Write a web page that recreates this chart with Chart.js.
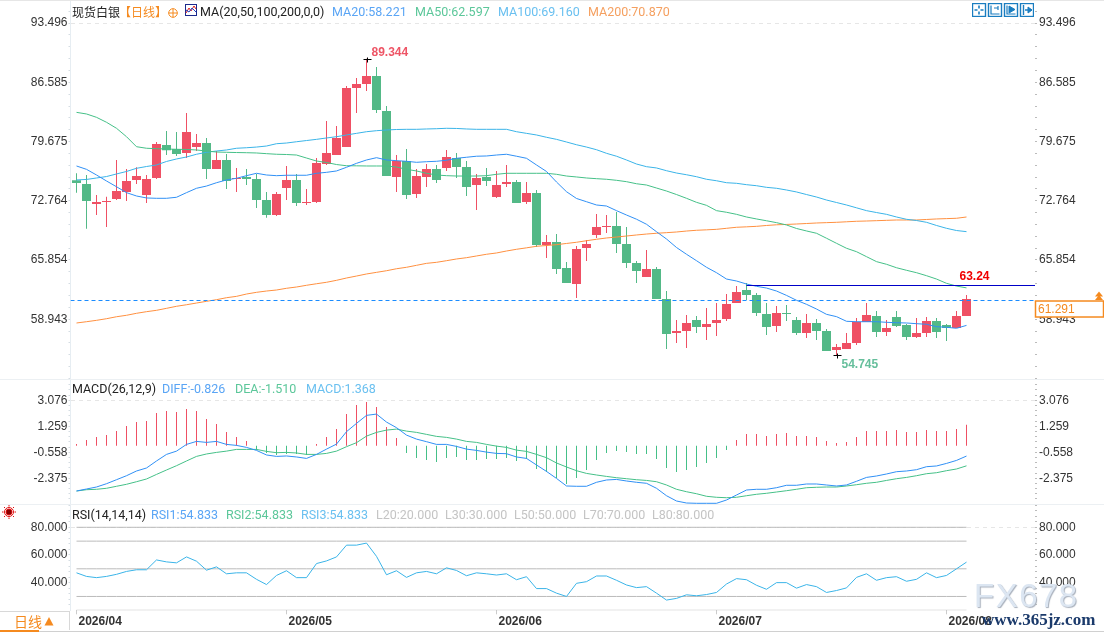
<!DOCTYPE html>
<html>
<head>
<meta charset="utf-8">
<script src="https://cdn.jsdelivr.net/npm/chart.js@4/dist/chart.umd.min.js"></script>
<style>
html, body { margin: 0; padding: 0; background: #fff; overflow: hidden; }
#page { position: relative; width: 1104px; height: 632px; overflow: hidden; font-family: "Roboto", "Liberation Sans", sans-serif; }
canvas { position: absolute; left: 0; }
.t { position: absolute; font-size: 12.5px; line-height: 16px; white-space: nowrap; }
.sep { position: absolute; left: 0; width: 1104px; height: 1px; background: #ecf0f3; }
svg { position: absolute; }
</style>
</head>
<body>
<div id="page">
  <canvas id="mainChart" width="1104" height="379" style="top:0"></canvas>
  <canvas id="macdChart" width="1104" height="125" style="top:379px"></canvas>
  <canvas id="rsiChart" width="1104" height="128" style="top:504px"></canvas>

  <div class="sep" style="top:0;background:#e6e6e6"></div>
  <div class="sep" style="top:379px"></div>
  <div class="sep" style="top:504px"></div>
  <div class="sep" style="top:631px;background:#d0d0d0"></div>

  <div class="t" style="left:72px;top:4px;font-family:'Noto Sans CJK SC';font-size:12px;color:#222">现货白银</div>
  <div class="t" style="left:119px;top:4px;font-family:'Noto Sans CJK SC';font-size:12px;color:#f58a1f">【日线】</div>
  <svg style="left:168px;top:8px" width="10" height="10"><circle cx="5" cy="5" r="4.3" fill="none" stroke="#f58a1f"/><path d="M0.5 5H9.5M5 0.5V9.5" stroke="#f58a1f"/></svg>
  <svg style="left:185px;top:4px" width="12" height="12"><rect x=".5" y=".5" width="11" height="11" fill="#fff" stroke="#1c2a8c"/><path d="M1 9L4 4L6 7L9 2L11 5" fill="none" stroke="#e02020"/><path d="M1 6L4 8L7 4L11 8" fill="none" stroke="#2040c0"/></svg>
  <div class="t" style="left:200px;top:4px;color:#222">MA(20,50,100,200,0,0)</div>
  <div class="t" style="left:332px;top:4px;color:#5aa5f5">MA20:58.221</div>
  <div class="t" style="left:415px;top:4px;color:#5cc79a">MA50:62.597</div>
  <div class="t" style="left:498px;top:4px;color:#6ac0f0">MA100:69.160</div>
  <div class="t" style="left:588px;top:4px;color:#f5a060">MA200:70.870</div>

  <svg style="left:972px;top:3px" width="62" height="14" fill="none" stroke="#1a7dc0">
    <rect x=".5" y=".5" width="13" height="13" stroke-width="1.4"/><path d="M7 2.5V5.5M7 8.5V11.5M2.5 7H5.5M8.5 7H11.5" stroke-width="1.6"/>
    <rect x="16.5" y=".5" width="13" height="13" stroke-width="1.4"/><path d="M19 2.5V11H27.5M22 5H26M26 3V7" stroke-width="1.2"/>
    <rect x="32.5" y=".5" width="13" height="13" stroke-width="1.4"/><path d="M35 2.5V11H43.5" stroke-width="1.2"/><path d="M37 3L43 6.5L37 10Z" fill="#1a7dc0"/>
    <rect x="48.5" y=".5" width="13" height="13" stroke-width="1.4"/><path d="M51.5 2V12M53 7H60" stroke-width="1.4"/><path d="M56 4L60 7L56 10Z" fill="#1a7dc0"/>
  </svg>

  <div class="t" style="left:72px;top:381px;color:#222">MACD(26,12,9)</div>
  <div class="t" style="left:162px;top:381px;color:#5aa5f5">DIFF:-0.826</div>
  <div class="t" style="left:235px;top:381px;color:#5cc79a">DEA:-1.510</div>
  <div class="t" style="left:306px;top:381px;color:#6ac0f0">MACD:1.368</div>

  <div class="t" style="left:72px;top:507px;color:#222">RSI(14,14,14)</div>
  <div class="t" style="left:151px;top:507px;color:#5aa5f5">RSI1:54.833</div>
  <div class="t" style="left:226px;top:507px;color:#5cc79a">RSI2:54.833</div>
  <div class="t" style="left:301px;top:507px;color:#6ac0f0">RSI3:54.833</div>
  <div class="t" style="left:376px;top:507px;color:#c4c4c4">L20:20.000</div>
  <div class="t" style="left:445px;top:507px;color:#c4c4c4">L30:30.000</div>
  <div class="t" style="left:514px;top:507px;color:#c4c4c4">L50:50.000</div>
  <div class="t" style="left:583px;top:507px;color:#c4c4c4">L70:70.000</div>
  <div class="t" style="left:652px;top:507px;color:#c4c4c4">L80:80.000</div>

  <svg style="left:2px;top:505px" width="14" height="14" stroke="#e01010"><circle cx="7" cy="7" r="3" fill="#800" /><circle cx="7" cy="7" r="4.5" fill="none"/><path d="M7 0V1.5M7 12.5V14M0 7H1.5M12.5 7H14M2 2L3 3M11 11L12 12M12 2L11 3M3 11L2 12"/></svg>

  <div style="position:absolute;left:0;top:611px;width:70px;height:19px;border-top:1px solid #d8d8d8;border-right:1px solid #d8d8d8;box-sizing:border-box"></div>
  <div class="t" style="left:14px;top:613px;font-family:'Noto Sans CJK SC';font-size:14px;color:#f58a1f">日线</div>
  <svg style="left:44px;top:617px" width="10" height="9"><path d="M5 0L9.5 8.5H0.5Z" fill="#f58a1f"/></svg>
  <div style="position:absolute;left:0;top:630px;width:39px;height:2px;background:#f58a1f"></div>

  <div class="t" style="left:974px;top:578px;font-family:'Liberation Sans';font-size:33px;line-height:36px;letter-spacing:1.5px;color:#dce6f2;text-shadow:1px 1px 1px #a8b0bc">FX678</div>
  <div class="t" style="left:982px;top:610px;font-family:'Liberation Serif';font-weight:bold;font-size:17px;line-height:20px;color:#1b3a6b">www.365jz.com</div>
</div>

<script>
// 90 dias, indice da vela
const labels = Array.from({ length: 90 }, (_, i) => i);
const monthTicks = [0, 21, 42, 64, 87];
const monthLabels = ["2026/04", "2026/05", "2026/06", "2026/07", "2026/08"];

const mainTicks = [93.496, 86.585, 79.675, 72.764, 65.854, 58.943];
const macdTicks = [3.076, 1.259, -0.558, -2.375];
const rsiTicks = [80, 60, 40];
const rsiLevels = [80, 70, 50, 30, 20];

const opens = [
  75.15,74.72,72.39,72.62,72.97,73.79,75.19,73.44,75.42,79.27,
  78.80,78.34,79.03,79.50,76.47,77.52,75.30,75.54,75.30,72.85,
  71.10,74.25,75.19,72.50,72.62,77.05,78.10,79.03,85.92,86.39,
  87.32,83.24,75.54,77.40,73.55,75.54,76.47,76.59,77.75,76.70,
  74.60,75.54,73.20,74.72,74.95,72.62,73.67,67.60,67.95,64.92,
  63.05,67.25,68.77,69.70,69.82,67.72,65.50,63.87,64.80,61.30,
  57.33,57.57,58.85,58.03,58.50,58.96,60.82,62.35,61.76,59.54,
  58.15,59.66,58.85,57.33,58.50,57.57,55.35,55.46,56.16,58.61,
  59.31,57.44,59.19,58.26,56.86,57.33,58.73,58.26,57.92,59.31];
const highs = [
  75.97,75.77,73.44,73.24,77.52,76.47,76.67,75.77,79.62,80.90,
  80.79,83.00,80.55,80.09,78.57,78.22,76.59,76.47,75.89,73.79,
  73.79,76.82,75.89,74.13,77.75,82.07,81.49,86.15,87.09,89.344,
  88.37,83.82,78.10,78.80,76.47,77.05,76.94,78.69,78.34,77.40,
  75.89,76.59,76.24,76.94,75.19,74.95,74.02,68.77,68.88,65.62,
  67.49,68.19,71.22,71.10,71.45,69.70,65.74,67.02,65.03,62.23,
  58.85,59.43,59.31,60.24,60.82,61.88,62.81,63.17,62.00,60.82,
  60.48,60.59,59.19,59.54,58.96,57.80,56.05,57.33,59.08,60.82,
  59.90,58.85,59.90,58.38,59.08,59.19,59.08,58.38,59.90,61.76];
const lows = [
  73.71,69.50,71.10,69.70,72.85,72.73,74.72,72.50,75.30,78.10,
  77.99,77.75,78.57,75.30,76.47,74.13,73.79,74.60,71.92,70.79,
  70.98,72.85,72.15,72.27,72.50,76.94,78.10,79.03,83.00,85.57,
  83.00,75.65,73.79,72.97,73.09,74.36,74.84,76.24,75.42,73.32,
  71.69,74.48,73.09,74.36,72.50,72.39,67.37,66.09,64.22,63.17,
  61.42,65.72,68.42,69.00,66.67,64.92,63.17,63.87,61.30,55.46,
  56.16,55.58,57.33,56.51,56.98,58.73,60.82,61.18,59.31,57.09,
  57.44,58.73,57.09,56.75,56.51,55.23,54.745,55.46,55.93,58.61,
  56.86,56.98,58.03,56.51,56.75,56.86,56.75,56.40,57.92,59.31];
const closes = [
  74.84,72.73,72.62,72.73,73.90,75.07,75.65,75.30,79.39,78.65,
  78.22,80.79,79.50,76.47,77.52,75.07,75.42,75.30,72.85,71.10,
  73.55,75.19,72.50,72.62,77.17,78.34,80.09,85.92,86.39,87.32,
  83.35,75.65,77.40,73.44,75.65,76.47,75.19,77.87,76.70,74.36,
  75.42,75.07,74.60,74.95,72.50,73.67,67.60,67.95,64.80,63.17,
  67.14,67.72,69.70,69.82,67.72,65.50,64.57,64.80,61.30,57.21,
  57.57,58.50,58.03,58.37,58.85,60.71,62.11,61.76,59.66,58.03,
  59.66,59.54,57.33,58.50,57.57,55.23,55.70,56.16,58.61,59.43,
  57.44,57.92,58.15,56.86,57.33,58.73,57.44,57.92,59.31,61.291];

const ma20 = [
  76.82,76.43,75.77,75.07,74.40,73.71,73.32,73.09,73.05,73.05,
  73.17,73.71,74.22,74.48,74.87,75.19,75.39,75.69,75.97,75.77,
  75.69,75.74,75.74,75.74,75.97,76.08,76.24,76.67,77.13,77.52,
  77.79,77.52,77.44,77.37,77.25,77.32,77.37,77.49,77.72,77.84,
  77.96,77.99,78.10,78.19,77.96,77.72,76.94,76.18,74.95,73.82,
  73.03,72.65,72.27,72.15,71.61,71.10,70.61,70.02,69.15,68.30,
  67.31,66.52,65.77,65.00,64.37,63.63,63.40,63.05,62.78,62.58,
  62.23,61.72,61.15,60.68,60.13,59.51,59.24,58.70,58.65,58.65,
  58.65,58.58,58.53,58.50,58.42,58.35,58.07,58.00,57.88,58.221];
const ma50 = [
  83.08,82.89,82.50,81.92,81.22,80.24,79.07,78.89,78.84,78.80,
  78.77,78.75,78.69,78.57,78.45,78.42,78.39,78.37,78.34,78.26,
  78.19,78.16,78.10,77.75,77.40,77.23,76.99,76.85,76.84,76.82,
  76.82,76.82,76.70,76.43,76.24,75.97,75.77,75.69,75.65,75.65,
  75.65,75.69,75.85,75.97,75.97,75.97,75.97,75.97,75.85,75.65,
  75.54,75.42,75.34,75.27,75.15,74.99,74.75,74.60,74.25,73.90,
  73.49,73.05,72.58,72.23,71.61,71.42,71.18,70.87,70.64,70.43,
  70.21,69.94,69.53,69.24,68.97,68.39,67.80,67.22,66.82,66.24,
  65.66,65.35,64.95,64.65,64.37,64.02,63.63,63.13,62.81,62.597];
const ma100 = [
  75.19,75.25,75.42,75.59,75.89,76.18,76.55,76.76,76.94,77.35,
  77.64,77.87,78.19,78.42,78.57,78.69,78.89,78.95,79.03,79.15,
  79.42,79.50,79.65,79.79,79.93,80.09,80.24,80.44,80.63,80.82,
  80.94,81.02,81.08,81.10,81.10,81.14,81.17,81.22,81.20,81.14,
  81.10,81.10,81.10,81.10,80.82,80.63,80.44,80.17,79.93,79.62,
  79.30,79.03,78.72,78.30,77.96,77.52,77.05,76.74,76.59,76.27,
  76.00,75.80,75.57,75.27,75.10,74.87,74.80,74.64,74.52,74.33,
  74.22,74.02,73.79,73.49,73.20,72.85,72.56,72.27,71.94,71.61,
  71.39,71.18,70.87,70.60,70.46,70.25,69.88,69.55,69.29,69.16];
const ma200 = [
  58.50,58.65,58.81,59.00,59.23,59.40,59.63,59.82,59.98,60.21,
  60.45,60.63,60.83,61.03,61.22,61.45,61.61,61.88,62.08,62.23,
  62.35,62.55,62.70,62.90,63.08,63.25,63.48,63.75,63.98,64.22,
  64.41,64.60,64.83,65.00,65.23,65.46,65.58,65.77,65.97,66.12,
  66.32,66.52,66.67,66.90,67.10,67.27,67.45,67.54,67.64,67.78,
  67.92,68.10,68.27,68.42,68.53,68.65,68.77,68.88,68.97,69.04,
  69.12,69.23,69.32,69.37,69.43,69.55,69.67,69.72,69.78,69.88,
  69.96,70.00,70.05,70.11,70.17,70.21,70.25,70.31,70.37,70.40,
  70.44,70.48,70.52,70.52,70.52,70.58,70.64,70.68,70.72,70.87];

const diff = [
  -3.27,-3.13,-2.99,-2.76,-2.48,-2.20,-1.87,-1.66,-1.17,-0.71,
  -0.48,-0.01,0.20,0.13,0.20,-0.01,-0.08,-0.22,-0.43,-0.75,
  -0.85,-0.82,-0.89,-0.99,-0.71,-0.34,0.01,0.88,1.46,2.02,
  2.11,1.55,1.16,0.64,0.36,0.18,-0.01,-0.01,-0.15,-0.34,
  -0.43,-0.55,-0.64,-0.66,-0.89,-0.99,-1.45,-1.90,-2.39,-2.92,
  -2.94,-2.94,-2.66,-2.50,-2.46,-2.57,-2.66,-2.73,-3.08,-3.60,
  -3.97,-4.11,-4.13,-4.13,-4.13,-3.90,-3.55,-3.20,-3.15,-3.15,
  -3.04,-2.87,-2.87,-2.78,-2.78,-2.85,-2.92,-2.85,-2.59,-2.32,
  -2.22,-2.08,-1.92,-1.87,-1.78,-1.57,-1.52,-1.34,-1.13,-0.826];
const dea = [
  -3.27,-3.18,-3.15,-3.08,-2.94,-2.80,-2.62,-2.43,-2.11,-1.80,
  -1.50,-1.17,-0.85,-0.68,-0.57,-0.48,-0.36,-0.36,-0.36,-0.50,
  -0.59,-0.57,-0.61,-0.71,-0.71,-0.64,-0.48,-0.17,0.11,0.57,
  0.83,0.99,1.06,0.92,0.83,0.69,0.55,0.48,0.36,0.20,
  0.13,-0.01,-0.13,-0.22,-0.41,-0.50,-0.71,-0.94,-1.31,-1.59,
  -1.85,-2.04,-2.15,-2.25,-2.34,-2.41,-2.48,-2.53,-2.62,-2.85,
  -3.15,-3.32,-3.46,-3.64,-3.71,-3.74,-3.71,-3.60,-3.50,-3.43,
  -3.34,-3.25,-3.15,-3.04,-3.01,-2.99,-2.99,-2.92,-2.83,-2.73,
  -2.66,-2.53,-2.41,-2.32,-2.20,-2.06,-1.99,-1.85,-1.73,-1.51];
const macdHist = [
  0.01,0.29,0.50,0.64,0.92,1.27,1.55,1.62,2.18,2.32,
  2.25,2.46,2.32,1.76,1.41,0.85,0.50,0.22,-0.41,-0.61,
  -0.75,-0.68,-0.68,-0.75,0.01,0.50,1.06,2.11,2.74,2.95,
  2.60,1.20,0.43,-0.61,-0.96,-1.10,-1.24,-0.96,-0.89,-1.10,
  -1.10,-1.03,-1.03,-0.96,-1.17,-1.03,-1.73,-1.94,-2.36,-2.78,
  -2.36,-1.80,-1.10,-0.61,-0.48,-0.55,-0.68,-0.68,-1.03,-1.66,
  -1.94,-1.80,-1.59,-1.31,-0.96,-0.41,0.29,0.71,0.71,0.57,
  0.71,0.78,0.57,0.57,0.50,0.22,0.08,0.15,0.50,0.92,
  0.92,0.92,0.99,0.85,0.85,0.99,0.92,0.92,1.06,1.368];

const rsi = [
  47.1,44.5,43.6,44.5,46.0,48.1,49.3,49.3,56.4,55.0,
  54.3,58.6,55.5,49.0,51.4,46.4,47.1,47.1,42.4,38.6,
  45.2,48.6,43.6,43.6,53.8,55.7,58.6,67.1,67.1,68.6,
  59.0,45.7,48.6,43.8,47.1,48.1,46.4,50.7,48.8,45.0,
  47.1,46.4,45.5,46.4,42.1,44.3,35.7,35.7,32.4,30.0,
  39.5,40.7,44.8,44.8,41.7,38.3,36.4,37.1,32.4,27.4,
  28.6,31.2,30.5,31.4,32.9,39.0,42.9,42.1,38.1,35.2,
  40.0,40.0,36.0,38.6,37.1,32.9,34.3,36.2,43.8,46.4,
  41.7,43.6,44.3,41.0,42.4,47.1,43.6,45.2,50.0,54.833];

const highLabel = 89.344;
const lowLabel = 54.745;
const lastPrice = 61.291;
const lastLine = 61.124;
const resistLine = 62.875;
const resistText = "63.24";
const resistStart = 67;

const RED = "#ef5064";
const GREEN = "#53b987";
const candleColors = closes.map((c, i) => c >= opens[i] ? RED : GREEN);
const histColors = macdHist.map(v => v >= 0 ? RED : "#45c088");

const X_MIN = -0.6, X_MAX = 95.85;

// escala x igual nos 3 paineis, uma vela a cada 10px
const xHidden = { type: "linear", display: false, offset: false, min: X_MIN, max: X_MAX };

const eixoY = (position, min, max, majors, subdiv) => {
  const step = Math.abs(majors[0] - majors[1]) / subdiv;
  const left = position === "left";
  return {
    type: "linear",
    position: position,
    min: min,
    max: max,
    afterBuildTicks: scale => {
      const list = [];
      for (let v = majors[0]; v < max; v += step) list.push(v);
      for (let v = majors[0] - step; v > min; v -= step) list.push(v);
      list.sort((a, b) => a - b);
      scale.ticks = list.map(v => ({ value: v }));
    },
    afterFit: scale => {
      scale.width = left ? 70.5 : 69;
      scale.paddingTop = 0;
      scale.paddingBottom = 0;
    },
    ticks: {
      autoSkip: false,
      padding: left ? 1 : 2,
      color: "#333",
      font: { family: "Liberation Sans", size: 12 },
      callback: value => {
        const m = majors.find(t => Math.abs(t - value) < step / 10);
        return m === undefined ? "" : m.toFixed(3);
      }
    },
    grid: {
      drawOnChartArea: left,
      tickLength: 2,
      tickColor: left ? "#d5dde3" : "#bbb",
      color: ctx => ctx.tick && Math.abs(ctx.tick.value - majors[0]) < step / 10 ? "#e6e6e6" : "transparent"
    },
    border: { display: left, color: "#e6edf2", dash: [4, 4] }
  };
};

const linha = (label, data, cor, yAxisID) => ({
  type: "line", label, data, borderColor: cor, borderWidth: 1,
  pointRadius: 0, tension: 0, order: 1, yAxisID: yAxisID || "y"
});

const barra = (label, data, cor, thickness, extra) => Object.assign({
  type: "bar", label, data, backgroundColor: cor, barThickness: thickness,
  grouped: false, borderSkipped: false, inflateAmount: 0, order: 2, yAxisID: "y"
}, extra);

// textos e marcas do painel principal
const marcas = {
  id: "marcas",
  afterDraw(chart) {
    const ctx = chart.ctx;
    const x = chart.scales.x, y = chart.scales.y;
    const cruz = (i, v) => {
      const px = Math.round(x.getPixelForValue(i)) + 0.5, py = Math.round(y.getPixelForValue(v)) + 0.5;
      ctx.strokeStyle = "#000";
      ctx.lineWidth = 1;
      ctx.beginPath();
      ctx.moveTo(px - 4, py); ctx.lineTo(px + 4, py);
      ctx.moveTo(px, py - 2); ctx.lineTo(px, py + 3);
      ctx.stroke();
    };
    const texto = (str, px, py, cor) => {
      ctx.fillStyle = cor;
      ctx.textAlign = "left";
      ctx.textBaseline = "middle";
      ctx.fillText(str, px, py);
    };
    ctx.save();
    const iHigh = highs.indexOf(highLabel), iLow = lows.indexOf(lowLabel);
    cruz(iHigh, highLabel);
    cruz(iLow, lowLabel);
    ctx.font = "bold 12px 'Liberation Sans'";
    texto(highLabel.toFixed(3), x.getPixelForValue(iHigh) + 5, y.getPixelForValue(highLabel) - 6, "#ee5566");
    texto(lowLabel.toFixed(3), x.getPixelForValue(iLow) + 5, y.getPixelForValue(lowLabel) + 10, "#66bf9c");
    texto(resistText, x.getPixelForValue(resistStart) + 213, y.getPixelForValue(resistLine) - 9, "#f00000");

    // caixa do ultimo preco na direita
    const py = y.getPixelForValue(lastLine);
    ctx.fillStyle = "#fff";
    ctx.strokeStyle = "#f58a1f";
    ctx.lineWidth = 1.5;
    ctx.fillRect(1035.5, py + 0.5, 68, 16);
    ctx.strokeRect(1035.5, py + 0.5, 68, 16);
    ctx.font = "12px 'Liberation Sans'";
    texto(lastPrice.toFixed(3), 1038, py + 9, "#f58a1f");

    ctx.fillStyle = "#f58a1f";
    [-8, -4.5].forEach(d => {
      ctx.beginPath();
      ctx.moveTo(1099, py + d - 1);
      ctx.lineTo(1103, py + d + 4);
      ctx.lineTo(1095, py + d + 4);
      ctx.fill();
    });
    ctx.restore();
  }
};

Chart.defaults.animation = false;
Chart.defaults.responsive = false;
Chart.defaults.devicePixelRatio = 1;
Chart.defaults.plugins.legend.display = false;
Chart.defaults.plugins.tooltip.enabled = false;

new Chart(document.getElementById("mainChart"), {
  data: {
    labels: labels,
    datasets: [
      linha("MA20", ma20, "#3090f5"),
      linha("MA50", ma50, "#45c088"),
      linha("MA100", ma100, "#3ab4e8"),
      linha("MA200", ma200, "#ff9040"),
      { type: "line", label: "last", data: [{ x: X_MIN, y: lastLine }, { x: X_MAX, y: lastLine }],
        borderColor: "#1a8cff", borderWidth: 1, borderDash: [4, 3], pointRadius: 0, order: 0, yAxisID: "y" },
      { type: "line", label: "resist", data: [{ x: resistStart, y: resistLine }, { x: X_MAX, y: resistLine }],
        borderColor: "#0000c8", borderWidth: 1, pointRadius: 0, order: 0, yAxisID: "y" },
      barra("corpo", opens.map((o, i) => [o, closes[i]]), candleColors, 9, { minBarLength: 1 }),
      barra("pavio", lows.map((l, i) => [l, highs[i]]), candleColors, 1)
    ]
  },
  options: {
    layout: { padding: 0 },
    scales: {
      x: xHidden,
      y: eixoY("left", 51.965, 96.19, mainTicks, 5),
      y2: eixoY("right", 51.965, 96.19, mainTicks, 5)
    }
  },
  plugins: [marcas]
});

new Chart(document.getElementById("macdChart"), {
  data: {
    labels: labels,
    datasets: [
      linha("DIFF", diff, "#3090f5"),
      linha("DEA", dea, "#45c088"),
      barra("MACD", macdHist, histColors, 1, { base: -0.1 })
    ]
  },
  options: {
    layout: { padding: 0 },
    scales: {
      x: xHidden,
      y: eixoY("left", -4.179, 4.564, macdTicks, 5),
      y2: eixoY("right", -4.179, 4.564, macdTicks, 5)
    }
  }
});

new Chart(document.getElementById("rsiChart"), {
  data: {
    labels: labels,
    datasets: [
      linha("RSI", rsi, "#3ab4e8"),
      ...rsiLevels.map(l => ({
        type: "line", label: "L" + l, data: labels.map(() => l), borderColor: "#bbb",
        borderWidth: 1, pointRadius: 0, order: 3, yAxisID: "y"
      }))
    ]
  },
  options: {
    layout: { padding: 0 },
    scales: {
      x: {
        type: "linear",
        min: X_MIN,
        max: X_MAX,
        afterBuildTicks: scale => { scale.ticks = monthTicks.map(v => ({ value: v })); },
        afterFit: scale => { scale.height = 21.7; scale.paddingLeft = 0; scale.paddingRight = 0; },
        ticks: {
          autoSkip: false,
          maxRotation: 0,
          align: "start",
          labelOffset: 2,
          padding: 0,
          color: "#333",
          font: { family: "Liberation Sans", size: 12, weight: "bold" },
          callback: value => monthLabels[monthTicks.indexOf(value)]
        },
        grid: { drawOnChartArea: false, tickLength: 4, tickColor: "#ccc" },
        border: { display: false }
      },
      y: eixoY("left", 20, 96.85, rsiTicks, 5),
      y2: eixoY("right", 20, 96.85, rsiTicks, 5)
    }
  }
});
</script>
</body>
</html>
